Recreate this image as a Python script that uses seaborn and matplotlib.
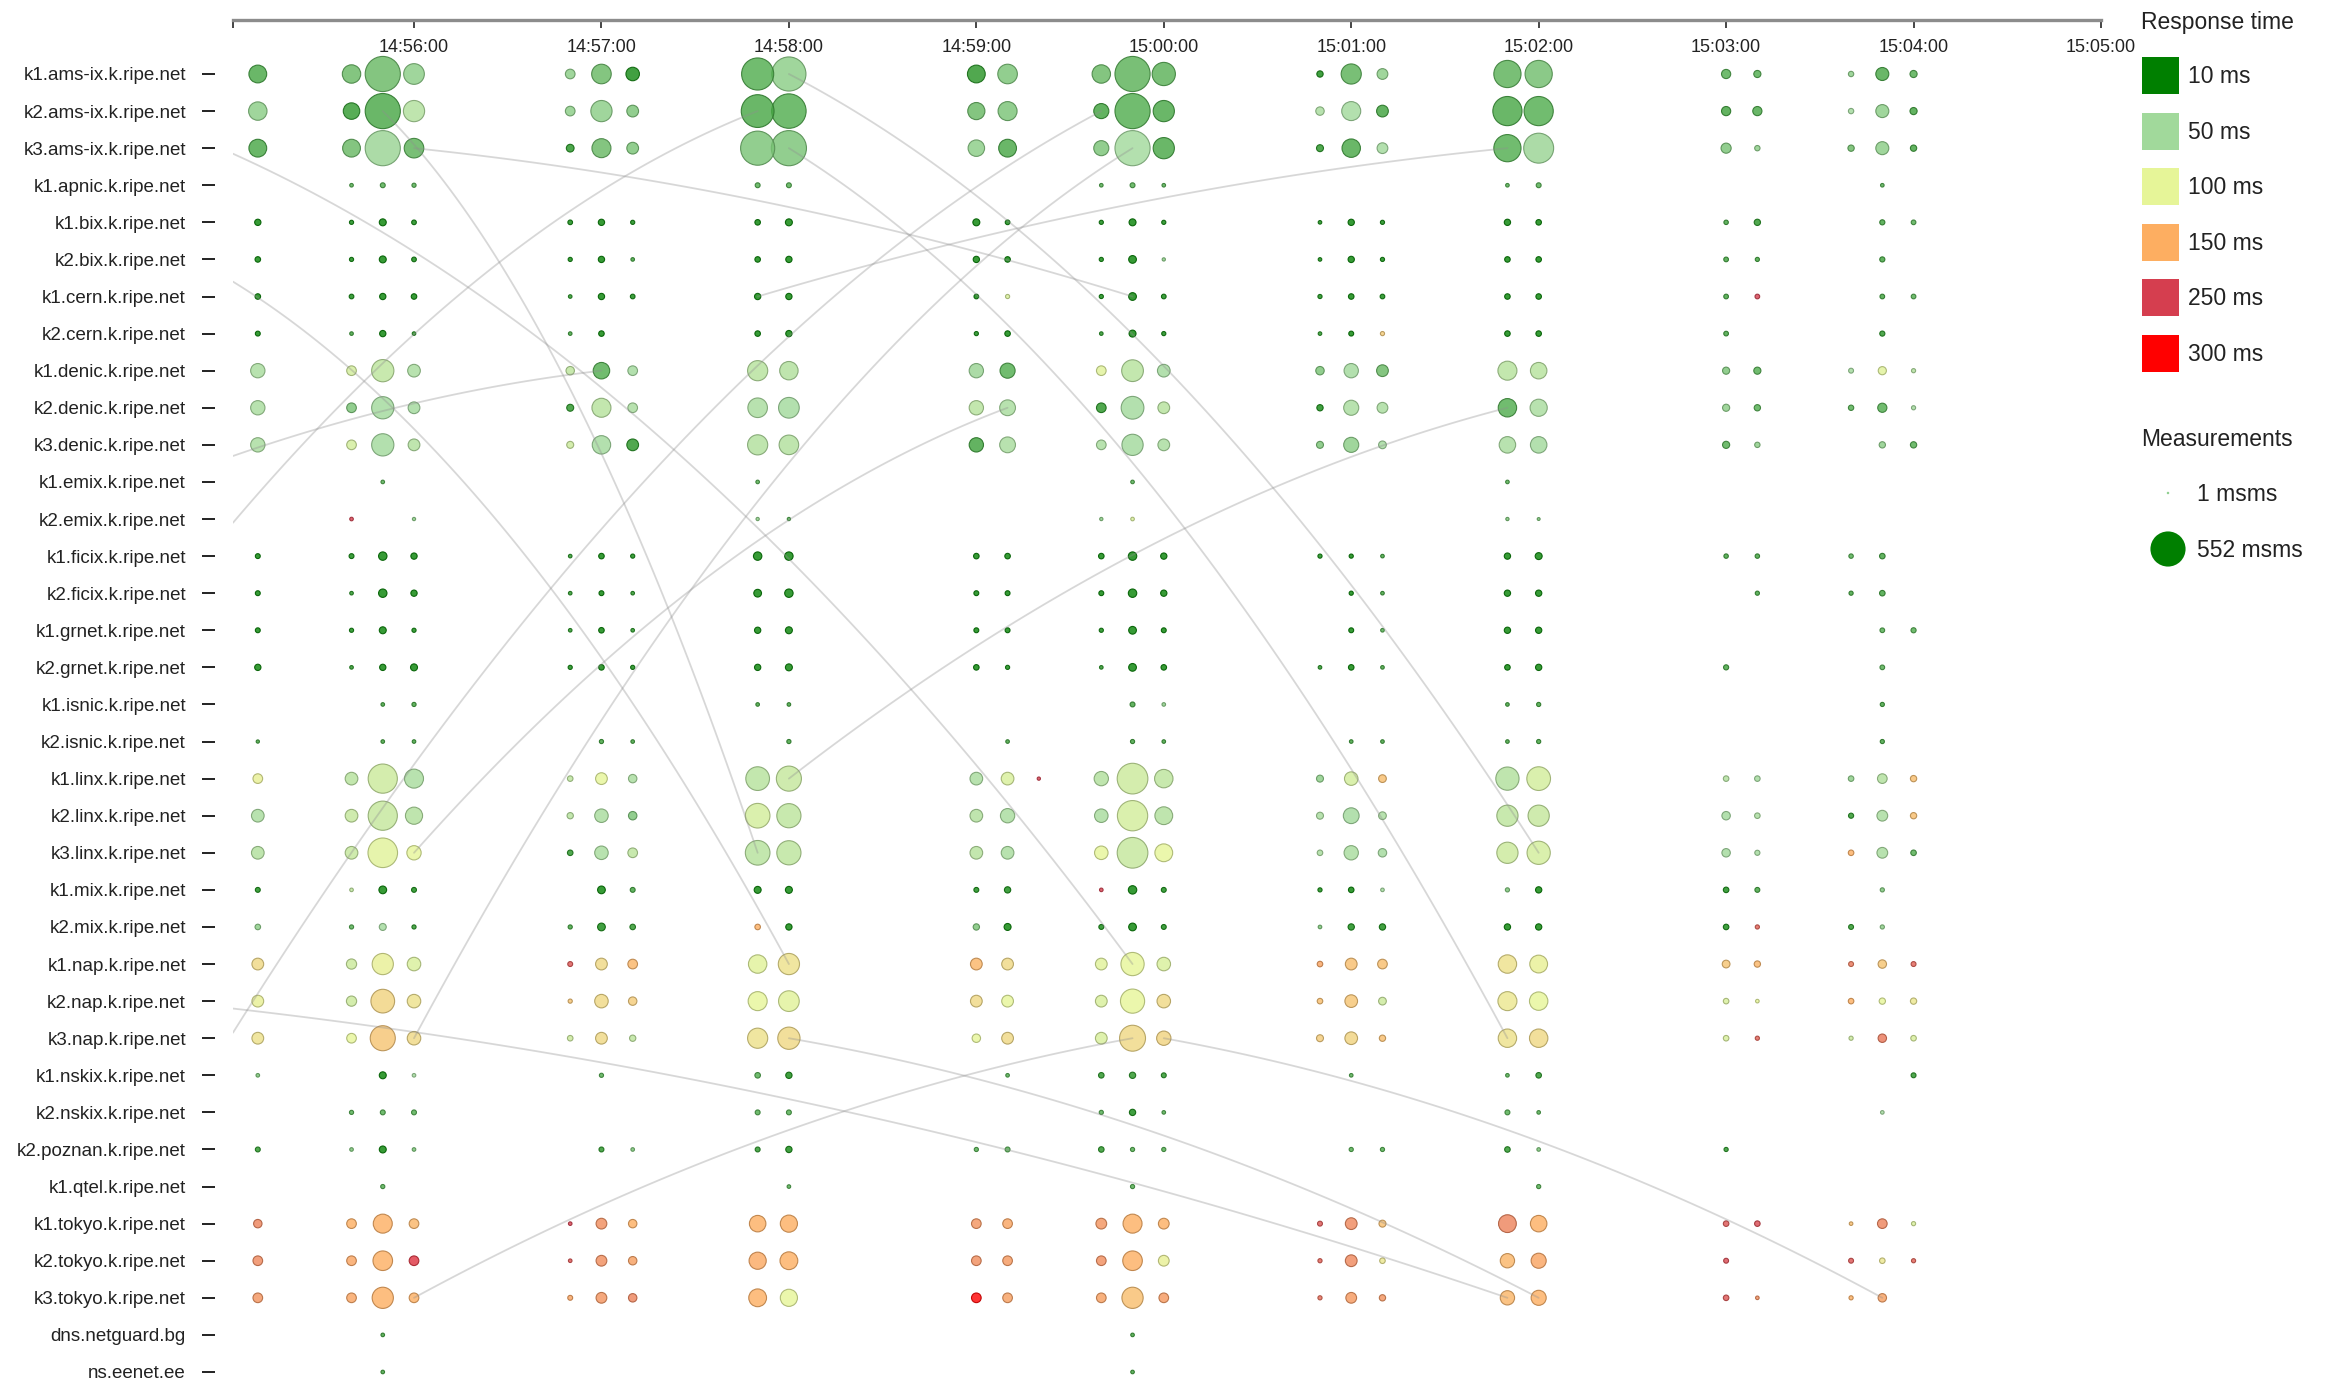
import numpy as np
import pandas as pd
import seaborn as sns
import matplotlib
matplotlib.use("Agg")
import matplotlib.pyplot as plt
from matplotlib.colors import LinearSegmentedColormap, Normalize
from matplotlib.patches import Rectangle

# K-root instances (rows)
hosts = ["k1.ams-ix.k.ripe.net", "k2.ams-ix.k.ripe.net", "k3.ams-ix.k.ripe.net", "k1.apnic.k.ripe.net",
         "k1.bix.k.ripe.net", "k2.bix.k.ripe.net", "k1.cern.k.ripe.net", "k2.cern.k.ripe.net",
         "k1.denic.k.ripe.net", "k2.denic.k.ripe.net", "k3.denic.k.ripe.net", "k1.emix.k.ripe.net",
         "k2.emix.k.ripe.net", "k1.ficix.k.ripe.net", "k2.ficix.k.ripe.net", "k1.grnet.k.ripe.net",
         "k2.grnet.k.ripe.net", "k1.isnic.k.ripe.net", "k2.isnic.k.ripe.net", "k1.linx.k.ripe.net",
         "k2.linx.k.ripe.net", "k3.linx.k.ripe.net", "k1.mix.k.ripe.net", "k2.mix.k.ripe.net",
         "k1.nap.k.ripe.net", "k2.nap.k.ripe.net", "k3.nap.k.ripe.net", "k1.nskix.k.ripe.net",
         "k2.nskix.k.ripe.net", "k2.poznan.k.ripe.net", "k1.qtel.k.ripe.net", "k1.tokyo.k.ripe.net",
         "k2.tokyo.k.ripe.net", "k3.tokyo.k.ripe.net", "dns.netguard.bg", "ns.eenet.ee"]

# 10 second bins (columns)
bins = ["14:55:10", "14:55:40", "14:55:50", "14:56:00", "14:56:50", "14:57:00", "14:57:10",
        "14:57:50", "14:58:00", "14:59:00", "14:59:10", "14:59:20", "14:59:40", "14:59:50",
        "15:00:00", "15:00:50", "15:01:00", "15:01:10", "15:01:50", "15:02:00", "15:03:00",
        "15:03:10", "15:03:40", "15:03:50", "15:04:00"]

# number of measurements per host and bin
counts = [
    [140, 150, 552, 190, 40, 170, 80, 460, 520, 140, 170, 0, 150, 552, 240, 16, 180, 50, 330, 330, 36, 21, 11, 74, 21],
    [150, 120, 552, 200, 40, 200, 60, 480, 530, 130, 160, 0, 100, 552, 200, 30, 160, 60, 380, 380, 36, 36, 11, 74, 21],
    [140, 140, 552, 170, 25, 160, 60, 520, 552, 120, 140, 0, 100, 552, 200, 20, 150, 50, 330, 400, 44, 11, 16, 74, 16],
    [0, 4, 9, 6, 0, 0, 0, 9, 9, 0, 0, 0, 4, 9, 4, 0, 0, 0, 4, 9, 0, 0, 0, 4, 0],
    [16, 6, 20, 8, 8, 16, 6, 12, 20, 20, 8, 0, 6, 20, 6, 4, 16, 6, 16, 12, 7, 16, 0, 10, 8],
    [12, 6, 20, 8, 6, 16, 4, 12, 16, 16, 12, 0, 6, 25, 3, 4, 16, 6, 12, 12, 8, 6, 0, 10, 0],
    [12, 8, 16, 12, 4, 16, 8, 16, 16, 8, 6, 0, 6, 25, 8, 6, 12, 8, 12, 12, 8, 8, 0, 8, 8],
    [9, 4, 16, 4, 4, 12, 0, 12, 16, 6, 12, 0, 4, 20, 6, 4, 9, 6, 12, 12, 8, 0, 0, 10, 0],
    [90, 40, 220, 70, 30, 120, 40, 180, 150, 90, 100, 0, 40, 210, 70, 30, 90, 60, 160, 120, 21, 21, 9, 28, 6],
    [90, 40, 220, 60, 20, 160, 40, 170, 190, 90, 110, 0, 40, 230, 60, 16, 100, 50, 150, 130, 21, 16, 11, 36, 6],
    [90, 40, 220, 60, 20, 150, 60, 180, 170, 90, 110, 0, 40, 200, 60, 20, 100, 25, 120, 120, 21, 11, 0, 16, 16],
    [0, 0, 4, 0, 0, 0, 0, 4, 0, 0, 0, 0, 0, 4, 0, 0, 0, 0, 4, 0, 0, 0, 0, 0, 0],
    [0, 4, 0, 3, 0, 0, 0, 3, 3, 0, 0, 0, 3, 4, 0, 0, 0, 0, 3, 2, 0, 0, 0, 0, 0],
    [9, 9, 30, 16, 4, 12, 6, 30, 30, 12, 12, 0, 12, 30, 16, 6, 6, 4, 16, 20, 7, 7, 7, 12, 0],
    [9, 4, 30, 16, 4, 9, 4, 25, 30, 9, 9, 0, 9, 30, 16, 0, 6, 4, 16, 16, 0, 6, 6, 12, 0],
    [9, 6, 20, 6, 4, 12, 4, 16, 20, 9, 9, 0, 6, 25, 9, 0, 9, 4, 16, 16, 0, 0, 0, 8, 10],
    [16, 4, 16, 20, 6, 12, 6, 16, 20, 12, 6, 0, 4, 25, 12, 4, 12, 4, 12, 16, 10, 0, 0, 8, 0],
    [0, 0, 4, 6, 0, 0, 0, 4, 4, 0, 0, 0, 0, 9, 4, 0, 0, 0, 4, 6, 0, 0, 0, 6, 0],
    [3, 0, 4, 4, 0, 6, 4, 0, 6, 0, 4, 0, 0, 6, 4, 0, 4, 4, 4, 6, 0, 0, 0, 6, 0],
    [40, 70, 380, 160, 12, 60, 30, 250, 280, 70, 70, 3, 90, 420, 150, 20, 80, 25, 240, 250, 12, 12, 12, 40, 16],
    [70, 70, 380, 130, 16, 80, 30, 270, 260, 70, 90, 0, 80, 410, 140, 20, 110, 25, 200, 200, 30, 12, 10, 50, 16],
    [70, 70, 390, 90, 12, 80, 40, 270, 260, 70, 70, 0, 80, 420, 140, 12, 90, 30, 200, 240, 30, 10, 12, 50, 12],
    [9, 4, 25, 9, 0, 25, 9, 20, 20, 9, 16, 0, 4, 30, 9, 6, 12, 4, 6, 16, 12, 9, 0, 6, 0],
    [12, 6, 20, 6, 6, 25, 12, 12, 16, 16, 20, 0, 9, 25, 9, 4, 16, 16, 16, 16, 12, 6, 9, 6, 0],
    [60, 45, 200, 80, 9, 60, 40, 150, 200, 60, 60, 0, 60, 240, 80, 12, 60, 40, 150, 140, 25, 16, 9, 30, 9],
    [60, 45, 250, 80, 6, 80, 30, 160, 190, 60, 60, 0, 60, 260, 80, 12, 70, 25, 160, 150, 12, 4, 12, 16, 16],
    [60, 40, 280, 80, 12, 60, 16, 180, 220, 30, 60, 0, 60, 300, 90, 20, 70, 16, 150, 150, 12, 6, 6, 30, 12],
    [4, 0, 20, 4, 0, 6, 0, 12, 16, 0, 4, 0, 12, 16, 9, 0, 4, 0, 4, 12, 0, 0, 0, 0, 9],
    [0, 6, 9, 9, 0, 0, 0, 9, 9, 0, 0, 0, 6, 16, 4, 0, 0, 0, 9, 4, 0, 0, 0, 4, 0],
    [9, 4, 20, 4, 0, 9, 4, 9, 16, 6, 9, 0, 12, 6, 6, 0, 6, 6, 12, 4, 6, 0, 0, 0, 0],
    [0, 0, 6, 0, 0, 0, 0, 0, 4, 0, 0, 0, 0, 6, 0, 0, 0, 0, 0, 6, 0, 0, 0, 0, 0],
    [30, 40, 160, 40, 4, 50, 30, 120, 130, 40, 40, 0, 50, 160, 50, 9, 60, 20, 140, 120, 12, 12, 4, 40, 6],
    [40, 40, 170, 40, 4, 50, 30, 130, 140, 40, 40, 0, 40, 170, 50, 6, 60, 12, 90, 100, 9, 0, 9, 12, 6],
    [40, 40, 200, 40, 9, 50, 30, 140, 130, 40, 40, 0, 40, 200, 40, 6, 50, 16, 90, 100, 12, 4, 6, 30, 0],
    [0, 0, 4, 0, 0, 0, 0, 0, 0, 0, 0, 0, 0, 4, 0, 0, 0, 0, 0, 0, 0, 0, 0, 0, 0],
    [0, 0, 4, 0, 0, 0, 0, 0, 0, 0, 0, 0, 0, 4, 0, 0, 0, 0, 0, 0, 0, 0, 0, 0, 0],
]

# median response time (ms) per host and bin
rtts = [
    [28, 35, 35, 45, 45, 35, 15, 30, 45, 20, 40, 0, 35, 32, 32, 15, 32, 45, 32, 38, 30, 30, 45, 28, 30],
    [45, 22, 28, 60, 45, 45, 40, 28, 30, 35, 40, 0, 25, 30, 28, 55, 50, 25, 28, 30, 25, 28, 50, 45, 25],
    [28, 35, 48, 32, 18, 35, 40, 40, 40, 45, 28, 0, 40, 50, 28, 20, 28, 50, 30, 48, 40, 45, 35, 45, 25],
    [0, 30, 30, 30, 0, 0, 0, 30, 30, 0, 0, 0, 30, 30, 30, 0, 0, 0, 30, 30, 0, 0, 0, 30, 0],
    [12, 14, 12, 14, 14, 12, 14, 12, 12, 12, 14, 0, 14, 12, 14, 15, 12, 14, 12, 12, 25, 20, 0, 25, 30],
    [12, 14, 12, 14, 14, 12, 25, 12, 12, 12, 12, 0, 14, 12, 45, 15, 12, 14, 12, 12, 25, 25, 0, 25, 0],
    [12, 14, 12, 12, 20, 12, 14, 12, 12, 12, 90, 0, 14, 12, 14, 15, 12, 14, 12, 12, 25, 250, 0, 25, 30],
    [12, 25, 12, 20, 25, 12, 0, 12, 12, 14, 12, 0, 20, 12, 14, 20, 12, 130, 12, 12, 25, 0, 0, 20, 0],
    [55, 85, 70, 55, 70, 30, 50, 65, 60, 48, 30, 0, 95, 65, 50, 40, 50, 35, 65, 65, 40, 30, 50, 95, 60],
    [55, 40, 50, 50, 20, 65, 55, 55, 50, 65, 55, 0, 20, 50, 65, 15, 55, 55, 30, 55, 45, 30, 30, 30, 50],
    [55, 85, 50, 60, 80, 50, 20, 60, 60, 25, 55, 0, 55, 50, 55, 40, 45, 50, 55, 50, 30, 45, 0, 45, 30],
    [0, 0, 30, 0, 0, 0, 0, 30, 0, 0, 0, 0, 0, 30, 0, 0, 0, 0, 30, 0, 0, 0, 0, 0, 0],
    [0, 250, 0, 45, 0, 0, 0, 45, 30, 0, 0, 0, 45, 90, 0, 0, 0, 0, 40, 40, 0, 0, 0, 0, 0],
    [12, 14, 12, 12, 20, 12, 14, 12, 12, 12, 12, 0, 12, 12, 12, 14, 12, 25, 12, 12, 25, 25, 30, 25, 0],
    [12, 20, 12, 12, 20, 12, 20, 12, 12, 12, 12, 0, 12, 12, 12, 0, 12, 25, 12, 12, 0, 25, 25, 25, 0],
    [12, 14, 12, 14, 20, 12, 20, 12, 12, 12, 12, 0, 14, 12, 12, 0, 12, 30, 12, 12, 0, 0, 0, 30, 30],
    [12, 20, 12, 12, 14, 12, 14, 12, 12, 12, 14, 0, 20, 12, 12, 20, 12, 25, 12, 12, 25, 0, 0, 30, 0],
    [0, 0, 25, 25, 0, 0, 0, 25, 25, 0, 0, 0, 0, 25, 45, 0, 0, 0, 25, 25, 0, 0, 0, 25, 0],
    [25, 0, 25, 25, 0, 25, 25, 0, 25, 0, 25, 0, 0, 25, 25, 0, 25, 25, 25, 25, 0, 0, 0, 25, 0],
    [105, 65, 80, 55, 70, 100, 55, 65, 75, 55, 90, 250, 60, 80, 70, 45, 85, 140, 60, 85, 60, 50, 45, 60, 140],
    [55, 75, 75, 60, 65, 55, 40, 85, 70, 60, 55, 0, 55, 85, 60, 55, 50, 55, 70, 75, 50, 55, 20, 55, 140],
    [60, 75, 95, 100, 20, 55, 70, 65, 70, 65, 55, 0, 100, 75, 100, 55, 55, 50, 80, 85, 50, 50, 150, 55, 30],
    [15, 70, 12, 15, 0, 12, 25, 12, 12, 15, 15, 0, 250, 12, 15, 15, 12, 50, 40, 12, 15, 25, 0, 40, 0],
    [45, 30, 50, 20, 25, 15, 20, 150, 12, 40, 12, 0, 15, 12, 15, 40, 15, 15, 12, 12, 15, 220, 20, 45, 0],
    [120, 80, 105, 90, 230, 120, 145, 95, 115, 145, 120, 0, 95, 100, 90, 160, 140, 140, 115, 105, 135, 145, 200, 135, 220],
    [105, 80, 125, 115, 135, 120, 130, 100, 95, 120, 100, 0, 90, 100, 120, 140, 135, 80, 110, 100, 90, 100, 150, 100, 110],
    [115, 100, 135, 120, 80, 120, 70, 115, 120, 100, 120, 0, 90, 120, 125, 130, 125, 140, 115, 120, 90, 220, 80, 200, 90],
    [40, 0, 12, 50, 0, 30, 0, 30, 15, 0, 30, 0, 20, 20, 20, 0, 30, 0, 30, 20, 0, 0, 0, 0, 20],
    [0, 30, 30, 30, 0, 0, 0, 30, 30, 0, 0, 0, 30, 15, 30, 0, 0, 0, 30, 30, 0, 0, 0, 50, 0],
    [20, 40, 12, 40, 0, 20, 40, 20, 15, 30, 30, 0, 20, 30, 30, 0, 30, 30, 20, 40, 20, 0, 0, 0, 0],
    [0, 0, 30, 0, 0, 0, 0, 0, 30, 0, 0, 0, 0, 30, 0, 0, 0, 0, 0, 30, 0, 0, 0, 0, 0],
    [190, 150, 150, 145, 250, 180, 150, 150, 150, 175, 160, 0, 175, 150, 150, 230, 185, 140, 190, 150, 230, 240, 140, 190, 90],
    [185, 160, 150, 260, 230, 180, 165, 155, 150, 180, 170, 0, 180, 150, 105, 220, 185, 110, 145, 160, 240, 0, 230, 110, 220],
    [175, 160, 150, 150, 160, 175, 190, 150, 100, 300, 165, 0, 165, 140, 170, 210, 170, 175, 145, 150, 230, 180, 150, 165, 0],
    [0, 0, 25, 0, 0, 0, 0, 0, 0, 0, 0, 0, 0, 25, 0, 0, 0, 0, 0, 0, 0, 0, 0, 0, 0],
    [0, 0, 25, 0, 0, 0, 0, 0, 0, 0, 0, 0, 0, 25, 0, 0, 0, 0, 0, 0, 0, 0, 0, 0, 0],
]

# probes switching instance: (from time, from host or row, to time, to host)
switches = [
    ("14:56:00", "k3.ams-ix.k.ripe.net", "14:59:50", "k1.cern.k.ripe.net"),
    ("14:57:50", "k1.cern.k.ripe.net", "15:01:50", "k3.ams-ix.k.ripe.net"),
    ("14:58:00", "k1.ams-ix.k.ripe.net", "15:02:00", "k3.linx.k.ripe.net"),
    ("14:58:00", "k3.ams-ix.k.ripe.net", "15:01:50", "k3.nap.k.ripe.net"),
    ("14:55:50", "k2.ams-ix.k.ripe.net", "14:57:50", "k3.linx.k.ripe.net"),
    ("14:55:02", 2.15, "14:59:50", "k1.nap.k.ripe.net"),
    ("14:55:02", 5.6, "14:58:00", "k1.nap.k.ripe.net"),
    ("14:55:02", 10.3, "14:57:00", "k1.denic.k.ripe.net"),
    ("14:55:02", 12.1, "14:57:50", "k2.ams-ix.k.ripe.net"),
    ("14:55:02", 25.2, "15:01:50", "k3.tokyo.k.ripe.net"),
    ("14:55:02", 25.85, "14:59:40", "k2.ams-ix.k.ripe.net"),
    ("14:56:00", "k3.nap.k.ripe.net", "14:59:50", "k3.ams-ix.k.ripe.net"),
    ("14:56:00", "k3.tokyo.k.ripe.net", "14:59:50", "k3.nap.k.ripe.net"),
    ("14:58:00", "k3.nap.k.ripe.net", "15:02:00", "k3.tokyo.k.ripe.net"),
    ("15:00:00", "k3.nap.k.ripe.net", "15:03:50", "k3.tokyo.k.ripe.net"),
    ("14:58:00", "k1.linx.k.ripe.net", "15:01:50", "k2.denic.k.ripe.net"),
    ("14:56:00", "k3.linx.k.ripe.net", "14:59:10", "k2.denic.k.ripe.net"),
]

tick_labels = ["14:56:00", "14:57:00", "14:58:00", "14:59:00", "15:00:00",
               "15:01:00", "15:02:00", "15:03:00", "15:04:00", "15:05:00"]

rtt_stops = [10, 50, 100, 150, 250, 300]
rtt_colors = ["#007f00", "#a1d99b", "#e6f598", "#fdae61", "#d53e4f", "#ff0000"]


def secs(t):
    h, m, s = map(int, t.split(":"))
    return (h - 14) * 3600 + (m - 55) * 60 + s


records = []
for i, host in enumerate(hosts):
    for j, b in enumerate(bins):
        if counts[i][j] > 0:
            records.append({"sec": secs(b), "row": i, "msms": counts[i][j], "rtt": rtts[i][j]})
df = pd.DataFrame(records).sort_values("msms", ascending=False)

pos = [(v - 10) / 290 for v in rtt_stops]
cmap = LinearSegmentedColormap.from_list("rtt", list(zip(pos, rtt_colors)))
norm = Normalize(10, 300)

sns.set_style("ticks")
plt.rcParams["font.family"] = ["Liberation Sans", "DejaVu Sans"]

W, H = 2328, 1382
fig = plt.figure(figsize=(W / 100, H / 100), dpi=100)
ax = fig.add_axes([233 / W, 0, (2101 - 233) / W, 1 - 20 / H])

sns.scatterplot(data=df, x="sec", y="row", hue="rtt", size="msms", palette=cmap,
                hue_norm=norm, sizes=(3.2, 640), size_norm=(1, 552), legend=False,
                ax=ax, linewidth=0.8, zorder=3)
pc = ax.collections[0]
fc = np.array(pc.get_facecolors())
ec = fc.copy()
ec[:, :3] *= 0.75
ec[:, 3] = 0.95
fc[:, 3] = 0.8
pc.set_facecolors(fc)
pc.set_edgecolors(ec)

x_left = 2.06
for t0, r0, t1, r1 in switches:
    xa = max(secs(t0), x_left)
    ya = hosts.index(r0) if isinstance(r0, str) else r0
    xb = secs(t1)
    yb = hosts.index(r1) if isinstance(r1, str) else r1
    ytop = min(ya, yb)
    cx = (xa + xb) / 2
    cy = ytop + 0.5 * ((ya + yb) / 2 - ytop)
    tt = np.linspace(0, 1, 80)
    bx = (1 - tt) ** 2 * xa + 2 * (1 - tt) * tt * cx + tt ** 2 * xb
    by = (1 - tt) ** 2 * ya + 2 * (1 - tt) * tt * cy + tt ** 2 * yb
    ax.plot(bx, by, color="#8f8f8f", alpha=0.35, lw=1.3, zorder=4, solid_capstyle="round")

ax.set_xlim(x_left, 600)
ax.set_ylim(35.27, -1.456)
ax.set_xticks([secs(t) for t in tick_labels])
ax.set_xticklabels(tick_labels)
ax.set_xticks([x_left], minor=True)
ax.set_yticks(range(len(hosts)))
ax.set_yticklabels(hosts)
ax.set_xlabel("")
ax.set_ylabel("")

ax.spines["top"].set_visible(False)
ax.spines["right"].set_visible(False)
ax.spines["bottom"].set_position(("axes", 1.0))
ax.spines["bottom"].set_color("#8c8c8c")
ax.spines["bottom"].set_linewidth(2.4)
ax.spines["left"].set_position(("outward", 13))
ax.spines["left"].set_visible(False)
ax.tick_params(axis="x", which="both", bottom=True, top=False, direction="out", length=5.8,
               width=1.4, color="#444444", labelsize=13, labelcolor="#222222", pad=8)
ax.tick_params(axis="y", left=True, direction="out", length=9.4, width=1.4, color="#222222",
               labelsize=13.5, labelcolor="#222222", pad=11.5)

# legend
lax = fig.add_axes([2120 / W, 0, (W - 2120) / W, 1])
lax.set_xlim(2120, W)
lax.set_ylim(H, 0)
lax.axis("off")
lax.patch.set_visible(False)
lax.text(2141, 22, "Response time", fontsize=16.5, va="center", ha="left", color="#222222")
for k, (v, c) in enumerate(zip(rtt_stops, rtt_colors)):
    cyk = 75.7 + 55.5 * k
    lax.add_patch(Rectangle((2142, cyk - 18.5), 37, 37, facecolor=c, edgecolor="none"))
    lax.text(2188, cyk + 1, f"{v} ms", fontsize=16.5, va="center", ha="left", color="#222222")
lax.text(2141, 439, "Measurements", fontsize=16.5, va="center", ha="left", color="#222222")
lax.scatter([2168], [493], s=3.2, color="#8fcf8f", edgecolor="none")
lax.text(2197, 494, "1 msms", fontsize=16.5, va="center", ha="left", color="#222222")
lax.scatter([2168], [549], s=640, color="#007f00", edgecolor="none")
lax.text(2197, 550, "552 msms", fontsize=16.5, va="center", ha="left", color="#222222")

fig.savefig("out.png", dpi=100)
